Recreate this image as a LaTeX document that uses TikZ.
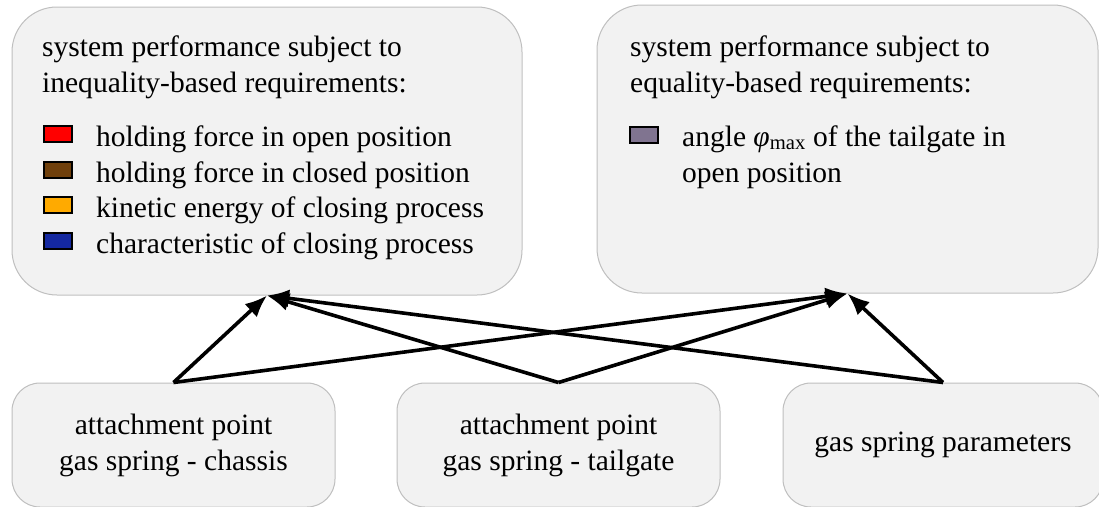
\documentclass[tikz,border=0pt]{standalone}
\usepackage{fontspec}
\setmainfont{Liberation Serif}
\usetikzlibrary{arrows.meta}

\definecolor{boxfill}{HTML}{F2F2F2}
\definecolor{boxline}{HTML}{BFBFBF}
\definecolor{sqred}{HTML}{FF0000}
\definecolor{sqbrown}{HTML}{70400C}
\definecolor{sqorange}{HTML}{FFAA00}
\definecolor{sqblue}{HTML}{1428A0}
\definecolor{sqgray}{HTML}{807490}

\begin{document}
\begin{tikzpicture}[x=1pt,y=-1pt,
    every node/.style={font=\fontsize{29.5}{36}\selectfont},
    bigbox/.style={draw=boxline, fill=boxfill, line width=1pt, rounded corners=45pt, inner sep=0pt},
    smallbox/.style={draw=boxline, fill=boxfill, line width=1pt, rounded corners=28pt,
        minimum width=323pt, minimum height=124pt, align=center, inner sep=0pt},
    legsq/.style={draw=black, line width=2pt, minimum width=28pt, minimum height=16pt, inner sep=0pt},
    legtxt/.style={anchor=base west, align=left, inner sep=0pt},
    arr/.style={-{Latex[length=22pt,width=18pt]}, line width=3.6pt}]
    \useasboundingbox (0,0) rectangle (1099,506);

    % requirement boxes
    \node[bigbox, minimum width=510pt, minimum height=288pt] (ineq) at (267,151) {};
    \node[bigbox, minimum width=501pt, minimum height=288pt] (eq) at (847.5,149) {};

    \node[legtxt] (ineqhead) at (42,92) {system performance subject to\\inequality-based requirements:};
    \node[legsq, fill=sqred] (sq1) at (58,134) {};
    \node[legsq, fill=sqbrown] (sq2) at (58,170) {};
    \node[legsq, fill=sqorange] (sq3) at (58,205) {};
    \node[legsq, fill=sqblue] (sq4) at (58,241) {};
    \node[legtxt] (req1) at (96,146) {holding force in open position};
    \node[legtxt] (req2) at (96,182) {holding force in closed position};
    \node[legtxt] (req3) at (96,217) {kinetic energy of closing process};
    \node[legtxt] (req4) at (96,253) {characteristic of closing process};

    \node[legtxt] (eqhead) at (630,92) {system performance subject to\\equality-based requirements:};
    \node[legsq, fill=sqgray] (sq5) at (644,135) {};
    \node[legtxt] (req5) at (682,182) {angle \textit{φ}\textsubscript{max} of the tailgate in\\open position};

    % design parameters
    \node[smallbox] (chassis) at (173.5,445) {attachment point\\gas spring - chassis};
    \node[smallbox] (tailgate) at (558.5,445) {attachment point\\gas spring - tailgate};
    \node[smallbox, minimum width=320pt] (params) at (943,445) {gas spring parameters};

    % dependencies
    \foreach \src in {chassis,tailgate,params}
    {
        \draw[arr] (\src.north) -- (ineq.south);
        \draw[arr] (\src.north) -- (eq.south);
    }
\end{tikzpicture}
\end{document}
